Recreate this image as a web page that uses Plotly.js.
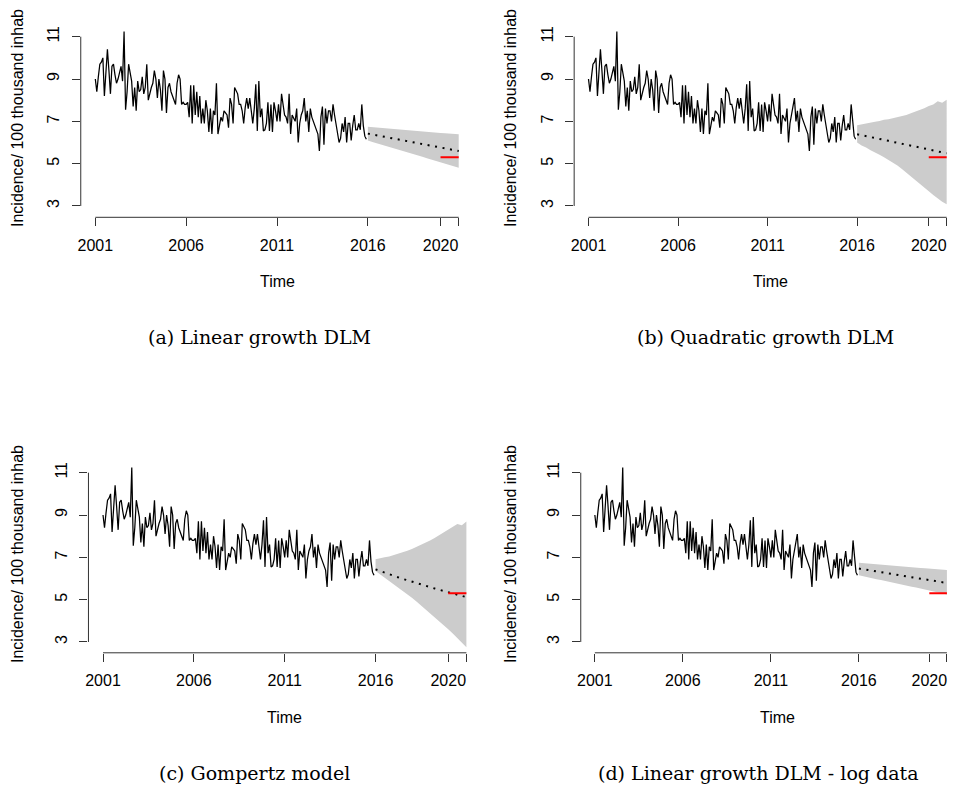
<!DOCTYPE html>
<html><head><meta charset="utf-8">
<script src="https://cdn.plot.ly/plotly-3.0.1.min.js"></script>
<style>html,body{margin:0;padding:0;background:#fff;} #chart{width:961px;height:787px;}</style>
</head><body><div id="chart"></div>
<script>
// Monthly incidence, Jan 2001 .. Dec 2015
const incidence = [
 9.0, 8.4, 9.1, 9.7, 9.8, 10.0, 8.2, 9.3, 10.4, 9.4, 8.3, 9.6,
 9.7, 9.2, 8.8, 9.0, 9.3, 9.6, 8.9, 11.25, 7.55, 8.4, 9.7, 9.3,
 8.9, 7.7, 8.6, 7.5, 8.9, 8.4, 8.5, 9.1, 8.3, 8.6, 9.7, 8.0,
 8.4, 8.6, 8.8, 9.4, 9.0, 8.1, 9.0, 8.5, 7.5, 9.4, 9.0, 7.4,
 8.6, 8.8, 8.4, 8.2, 7.9, 7.8, 8.8, 9.2, 9.0, 7.8, 7.9, 7.8,
 7.8, 7.9, 7.2, 8.7, 6.9, 8.7, 7.3, 8.4, 7.2, 8.2, 6.9, 7.6,
 6.9, 8.0, 7.5, 6.5, 7.6, 6.4, 7.5, 7.3, 8.8, 6.4, 6.8, 7.2,
 7.0, 7.5, 7.4, 7.3, 6.7, 8.1, 7.8, 6.9, 8.6, 8.4, 8.3, 7.8,
 7.8, 7.5, 6.9, 7.65, 8.1, 7.6, 8.1, 7.5, 6.9, 7.6, 8.75, 6.55,
 8.9, 7.2, 7.6, 6.55, 6.6, 6.9, 7.9, 6.55, 7.8, 6.5, 7.9, 7.5,
 7.0, 7.8, 7.0, 8.3, 7.65, 7.3, 7.2, 6.9, 8.3, 6.4, 7.3, 7.1,
 7.0, 7.6, 6.0, 6.9, 7.3, 7.5, 8.1, 7.0, 7.5, 6.5, 7.6, 7.2,
 7.0, 6.85, 6.6, 6.4, 5.6, 7.2, 7.7, 5.9, 7.6, 6.9, 7.5, 7.5,
 7.0, 7.8, 7.3, 6.9, 6.4, 6.0, 6.2, 6.9, 6.5, 7.2, 6.0, 6.9,
 6.9, 6.1, 6.8, 7.3, 6.6, 6.6, 6.9, 6.6, 7.8, 6.8, 6.3, 6.15
];
const seriesStartYear = 2001;
const monthsPerYear = 12;

// Forecast horizon (quarterly steps)
const forecastTime = [2016, 2016.25, 2016.5, 2016.75, 2017, 2017.25, 2017.5, 2017.75, 2018, 2018.25, 2018.5,
                      2018.75, 2019, 2019.25, 2019.5, 2019.75, 2020, 2020.25, 2020.5, 2020.75, 2021];

// (a) Linear growth DLM
const meanA  = [6.42,6.38,6.34,6.30,6.26,6.22,6.18,6.14,6.10,6.06,6.01,5.97,5.93,5.89,5.85,5.81,5.76,5.72,5.68,5.64,5.60];
const upperA = [6.75,6.73,6.72,6.70,6.68,6.66,6.65,6.63,6.61,6.59,6.57,6.55,6.53,6.51,6.49,6.47,6.45,6.44,6.42,6.40,6.39];
const lowerA = [6.10,6.02,5.95,5.89,5.83,5.76,5.70,5.64,5.58,5.51,5.45,5.39,5.33,5.26,5.20,5.13,5.07,5.00,4.94,4.87,4.81];
// (b) Quadratic growth DLM
const meanB  = [6.39,6.35,6.30,6.26,6.21,6.17,6.12,6.08,6.03,5.99,5.94,5.90,5.85,5.81,5.76,5.72,5.67,5.63,5.58,5.54,5.49];
const upperB = [6.81,6.86,6.89,6.95,6.98,7.02,7.08,7.10,7.15,7.19,7.26,7.30,7.38,7.45,7.55,7.62,7.72,7.80,7.95,7.88,8.02];
const lowerB = [6.00,5.86,5.76,5.64,5.55,5.42,5.30,5.17,5.05,4.91,4.75,4.58,4.40,4.22,4.05,3.88,3.70,3.52,3.35,3.20,3.08];
// (c) Gompertz model
const meanC  = [6.43,6.35,6.28,6.20,6.13,6.05,5.98,5.92,5.85,5.78,5.72,5.66,5.60,5.53,5.47,5.41,5.35,5.29,5.23,5.17,5.12];
const upperC = [6.91,6.94,7.00,7.04,7.10,7.18,7.25,7.31,7.40,7.50,7.60,7.68,7.80,7.92,8.05,8.16,8.30,8.45,8.58,8.52,8.70];
const lowerC = [6.36,6.20,6.05,5.88,5.72,5.56,5.40,5.25,5.09,4.91,4.73,4.56,4.38,4.18,3.98,3.79,3.60,3.40,3.20,2.98,2.75];
// (d) Linear growth DLM - log data
const meanD  = [6.47,6.44,6.40,6.37,6.33,6.30,6.27,6.23,6.20,6.16,6.13,6.10,6.06,6.03,5.99,5.96,5.93,5.89,5.86,5.82,5.79];
const upperD = [6.75,6.73,6.72,6.70,6.68,6.67,6.65,6.63,6.61,6.60,6.58,6.56,6.54,6.52,6.50,6.49,6.47,6.45,6.43,6.42,6.40];
const lowerD = [6.15,6.11,6.06,6.02,5.97,5.93,5.88,5.84,5.79,5.75,5.70,5.66,5.61,5.57,5.52,5.48,5.43,5.39,5.34,5.30,5.25];

// 2020 target
const targetTime  = [2020, 2021];
const targetValue = [5.3, 5.3];

const xTickVals = [2001, 2006, 2011, 2016, 2020, 2021];
const xTickText = ["2001", "2006", "2011", "2016", "2020", ""];
const yTickVals = [3, 5, 7, 9, 11];
const yTickText = ["3", "5", "7", "9", "11"];
const captions = ["(a) Linear growth DLM", "(b) Quadratic growth DLM", "(c) Gompertz model", "(d) Linear growth DLM - log data"];
const yTitle = "Incidence/ 100 thousand inhab";
const xTitle = "Time";

const means  = [meanA, meanB, meanC, meanD];
const uppers = [upperA, upperB, upperC, upperD];
const lowers = [lowerA, lowerB, lowerC, lowerD];

// ---- layout geometry (pixels) ----
const W = 961, H = 787;
const PPY = 18.17; // px per year
const panels = [
  {x2001: 95.3,  y11: 36.7,  y3: 206.0, bottom: 217.3, capX: 259, capY: 337, yTitX: 17,  yTitY: 118},
  {x2001: 588.7, y11: 36.7,  y3: 206.0, bottom: 217.3, capX: 765, capY: 337, yTitX: 510, yTitY: 118},
  {x2001: 103.0, y11: 472.7, y3: 642.0, bottom: 652.8, capX: 255, capY: 772.7, yTitX: 17, yTitY: 554},
  {x2001: 595.3, y11: 472.7, y3: 642.0, bottom: 652.8, capX: 758, capY: 772.7, yTitX: 510, yTitY: 554}
];

const seriesTime = incidence.map((_, i) => seriesStartYear + i / monthsPerYear);
const sans = "Liberation Sans, Arial, sans-serif";
const serif = "DejaVu Serif, serif";
const axisCol = "#333333";

const traces = [];
const layout = {
  width: W, height: H, autosize: false,
  margin: {l: 0, r: 0, t: 0, b: 0, pad: 0},
  paper_bgcolor: "#ffffff", plot_bgcolor: "rgba(0,0,0,0)",
  showlegend: false,
  shapes: [], annotations: []
};

panels.forEach((p, i) => {
  const n = i === 0 ? "" : String(i + 1);
  const xa = "x" + n, ya = "y" + n;
  const ppu = (p.y3 - p.y11) / 8;
  const yLo = 3 - (p.bottom - p.y3) / ppu;
  const yHi = 11.32;
  const topPx = p.y11 - 0.32 * ppu;
  const leftPx = p.x2001 - 0.8 * PPY, rightPx = p.x2001 + 20.8 * PPY;

  layout["xaxis" + n] = {
    domain: [leftPx / W, rightPx / W], range: [2000.2, 2021.8], anchor: ya,
    tickmode: "array", tickvals: xTickVals, ticktext: xTickText,
    ticks: "outside", ticklen: 8, tickwidth: 1, tickcolor: axisCol,
    showline: false, showgrid: false, zeroline: false,
    tickfont: {family: sans, size: 16, color: "#000"}, ticklabelstandoff: 5,
    fixedrange: true
  };
  layout["yaxis" + n] = {
    domain: [1 - p.bottom / H, 1 - topPx / H], range: [yLo, yHi], anchor: xa,
    tickmode: "array", tickvals: yTickVals, ticktext: yTickText, tickangle: -90,
    ticks: "outside", ticklen: 8, tickwidth: 1, tickcolor: axisCol,
    showline: false, showgrid: false, zeroline: false,
    tickfont: {family: sans, size: 16, color: "#000"}, ticklabelstandoff: 6,
    fixedrange: true
  };

  // axis lines (R style: from first to last tick)
  layout.shapes.push({type: "line", xref: xa, yref: ya + " domain", x0: xTickVals[0], x1: xTickVals[xTickVals.length - 1], y0: 0, y1: 0, line: {color: axisCol, width: 1}});
  layout.shapes.push({type: "line", xref: xa + " domain", yref: ya, x0: 0, x1: 0, y0: yTickVals[0], y1: yTickVals[yTickVals.length - 1], line: {color: axisCol, width: 1}});

  // band
  traces.push({
    type: "scatter", mode: "lines", xaxis: xa, yaxis: ya,
    x: forecastTime.concat(forecastTime.slice().reverse()),
    y: uppers[i].concat(lowers[i].slice().reverse()),
    fill: "toself", fillcolor: "#cccccc", line: {width: 0, color: "#cccccc"}, hoverinfo: "skip"
  });
  // observed series
  traces.push({
    type: "scatter", mode: "lines", xaxis: xa, yaxis: ya,
    x: seriesTime, y: incidence, line: {color: "#000", width: 1.25}
  });
  // forecast mean
  traces.push({
    type: "scatter", mode: "lines", xaxis: xa, yaxis: ya,
    x: forecastTime, y: means[i], line: {color: "#000", width: 2, dash: "2px,5.6px"}
  });
  // target
  traces.push({
    type: "scatter", mode: "lines", xaxis: xa, yaxis: ya,
    x: targetTime, y: targetValue, line: {color: "#ff0000", width: 2}
  });

  const midX = (leftPx + rightPx) / 2;
  layout.annotations.push({xref: "paper", yref: "paper", x: midX / W, y: 1 - (p.bottom + 64.4) / H, text: xTitle, showarrow: false, xanchor: "center", yanchor: "middle", font: {family: sans, size: 16, color: "#000"}});
  layout.annotations.push({xref: "paper", yref: "paper", x: p.yTitX / W, y: 1 - p.yTitY / H, text: yTitle, textangle: -90, showarrow: false, xanchor: "center", yanchor: "middle", font: {family: sans, size: 16, color: "#000"}});
  layout.annotations.push({xref: "paper", yref: "paper", x: p.capX / W, y: 1 - p.capY / H, text: captions[i], showarrow: false, xanchor: "center", yanchor: "middle", font: {family: serif, size: 19, color: "#000"}});
});

Plotly.newPlot("chart", traces, layout, {staticPlot: true, displayModeBar: false});
</script>
</body></html>
